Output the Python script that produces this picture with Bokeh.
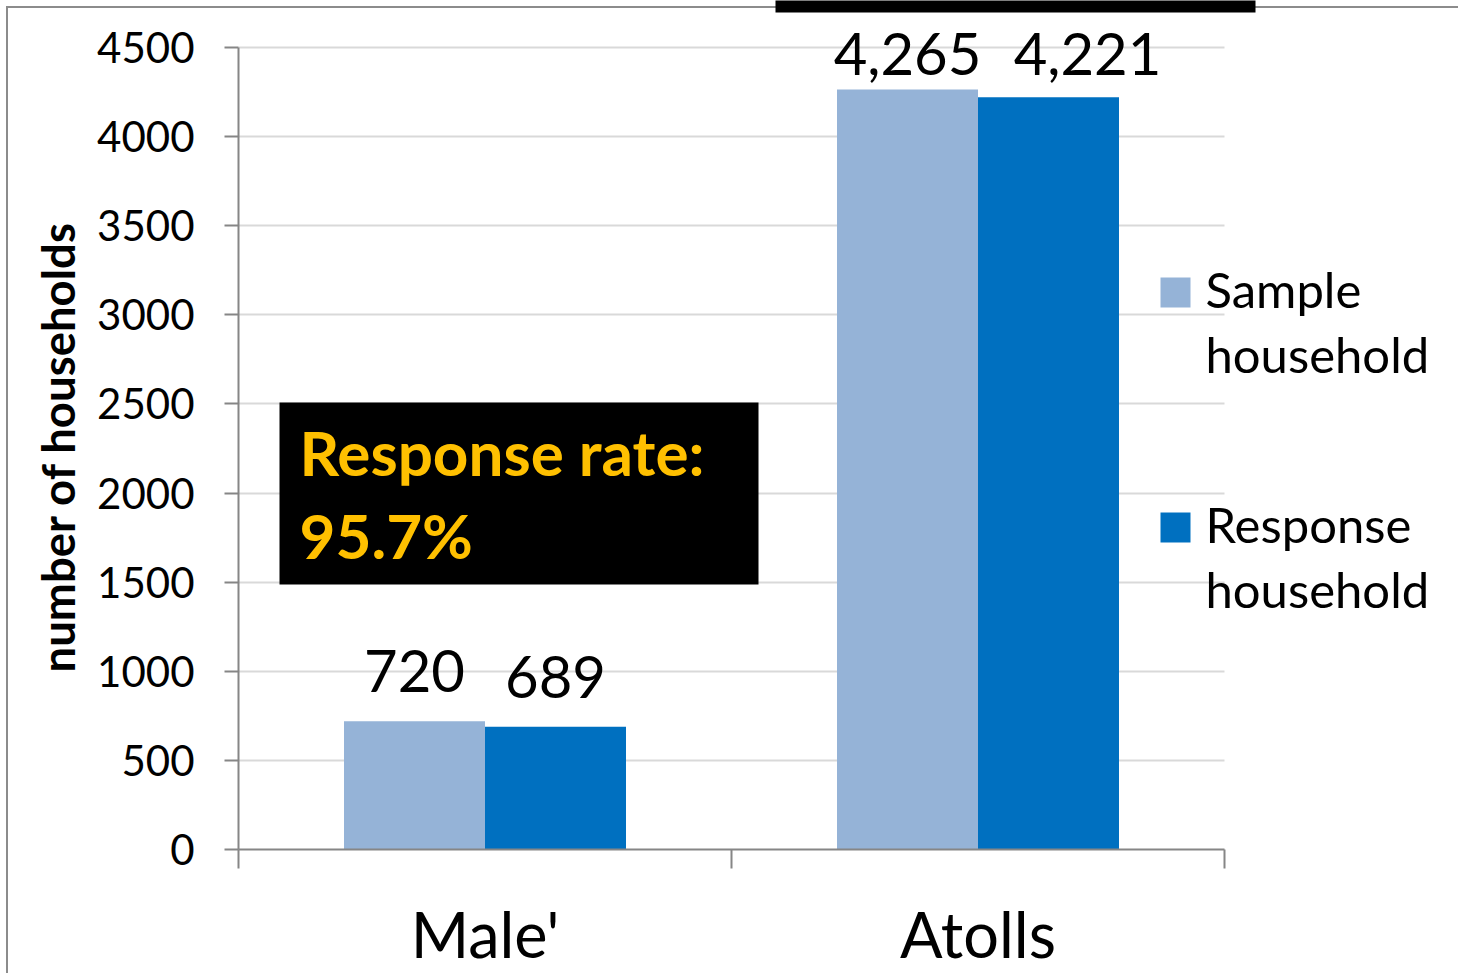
from bokeh.plotting import figure
from bokeh.models import (ColumnDataSource, Range1d, FixedTicker, LabelSet, Label, BoxAnnotation, Title)
from bokeh.transform import dodge
from bokeh.core.properties import value
from bokeh.embed import file_html
from bokeh.resources import INLINE

# ---- data ----
categories = ["Male'", "Atolls"]
sample_households = [720, 4265]
response_households = [689, 4221]
series_names = [("Sample", "household"), ("Response", "household")]
y_ticks = [0, 500, 1000, 1500, 2000, 2500, 3000, 3500, 4000, 4500]
y_label = "number of households"
note_lines = ["Response rate:", "95.7%"]

# ---- style ----
C_SAMPLE = "#95B3D7"
C_RESP = "#0070C0"
AXIS_C = "#868686"
GRID_C = "#D9D9D9"
FONT = "Lato"
BAR_W = 0.286
LABEL_GAP = 163       # data units above bar top
LABEL_CAP = 4343      # labels never above this
RESP_SHIFT = [0, 39]  # px shift of response labels

W, H = 1458, 973
FL, FB, FT_Y, FR_X = 238, 849, 47, 1224   # frame left, y of 0, y of 4500, x of right end
Y_MAX = y_ticks[-1]
n = len(categories)
x_end = n * (W - FL) / (FR_X - FL)
y_end = Y_MAX * FB / (FB - FT_Y)

cat_pos = [i + 0.5 for i in range(n)]
src = ColumnDataSource(dict(
    pos=cat_pos,
    sample=sample_households,
    response=response_households,
    s_txt=[f"{v:,}" for v in sample_households],
    r_txt=[f"{v:,}" for v in response_households],
    s_y=[min(v + LABEL_GAP, LABEL_CAP) for v in sample_households],
    r_y=[min(v + LABEL_GAP, LABEL_CAP) for v in response_households],
    r_dx=RESP_SHIFT,
))

p = figure(width=W, height=H,
           x_range=Range1d(0, x_end), y_range=Range1d(0, y_end),
           output_backend="svg", toolbar_location=None,
           min_border_left=FL, min_border_right=0,
           min_border_top=0, min_border_bottom=H - FB)
p.outline_line_color = None
p.background_fill_color = None
p.border_fill_color = None
p.styles = {
    "background-color": "white",
    "background-image": "linear-gradient(#8c8c8c, #8c8c8c), linear-gradient(#8c8c8c, #8c8c8c)",
    "background-size": "2px 100%, 100% 2px",
    "background-position": "6px 6px, 6px 6px",
    "background-repeat": "no-repeat",
}

p.vbar(x=dodge("pos", -BAR_W / 2), top="sample", width=BAR_W,
       source=src, fill_color=C_SAMPLE, line_color=None)
p.vbar(x=dodge("pos", BAR_W / 2), top="response", width=BAR_W,
       source=src, fill_color=C_RESP, line_color=None)

# y axis
yax = p.yaxis[0]
yax.ticker = FixedTicker(ticks=y_ticks)
yax.bounds = (0, Y_MAX)
yax.axis_line_color = AXIS_C
yax.axis_line_width = 2
yax.major_tick_line_color = AXIS_C
yax.major_tick_line_width = 2
yax.major_tick_out = 14
yax.major_tick_in = 0
yax.minor_tick_line_color = None
yax.major_label_text_font = FONT
yax.major_label_text_font_size = "42px"
yax.major_label_text_color = "black"
yax.major_label_standoff = 30

# y-axis title, placed along the 0..4500 span
p.add_layout(Title(text=y_label, text_font=FONT, text_font_style="bold",
                   text_font_size="45.5px", text_color="black",
                   align="left", offset=177, standoff=20), "left")

p.ygrid.ticker = FixedTicker(ticks=y_ticks)
p.ygrid.bounds = (0, Y_MAX)
p.ygrid.cross_bounds = (0, n)
p.ygrid.grid_line_color = GRID_C
p.ygrid.grid_line_width = 2
p.xgrid.grid_line_color = None

# x axis: boundary ticks as minor ticks, category names as major labels
xax = p.xaxis[0]
xax.ticker = FixedTicker(ticks=cat_pos, minor_ticks=[float(i) for i in range(n + 1)])
xax.bounds = (0, n)
xax.major_label_overrides = {c: name for c, name in zip(cat_pos, categories)}
xax.axis_line_color = AXIS_C
xax.axis_line_width = 2
xax.major_tick_line_color = None
xax.major_tick_out = 19
xax.major_tick_in = 0
xax.minor_tick_line_color = AXIS_C
xax.minor_tick_line_width = 2
xax.minor_tick_out = 19
xax.minor_tick_in = 0
xax.major_label_text_font = FONT
xax.major_label_text_font_size = "63px"
xax.major_label_text_color = "black"
xax.major_label_standoff = 27

# data labels
p.add_layout(LabelSet(x=dodge("pos", -BAR_W / 2), y="s_y", text="s_txt",
                      source=src, text_align="center", text_baseline="alphabetic",
                      text_font=value(FONT), text_font_size=value("58px"), text_color="black"))
p.add_layout(LabelSet(x=dodge("pos", BAR_W / 2), y="r_y", text="r_txt", x_offset="r_dx",
                      source=src, text_align="center", text_baseline="alphabetic",
                      text_font=value(FONT), text_font_size=value("58px"), text_color="black"))

def sx(x):  # reference pixel x -> frame screen x
    return x - FL

def sy(y):  # reference pixel y -> frame screen y (upwards)
    return FB - y

def box(l, r, t, b, color):
    p.add_layout(BoxAnnotation(left=sx(l), right=sx(r), top=sy(t), bottom=sy(b),
                               left_units="screen", right_units="screen",
                               bottom_units="screen", top_units="screen",
                               fill_color=color, fill_alpha=1, line_color=None))

def text(x, y, t, size, color="black", style="normal", lift=0):
    p.add_layout(Label(x=sx(x), y=sy(y) + lift, x_units="screen", y_units="screen", text=t,
                       text_font=FONT, text_font_style=style, text_font_size=size,
                       text_color=color, text_baseline="alphabetic", text_align="left"))

# legend (hand-built, overlapping plot area like the original)
legend_rows = [(C_SAMPLE, 277, 308, 373), (C_RESP, 512, 543, 608)]
for (col, sq_top, b1, b2), (l1, l2) in zip(legend_rows, series_names):
    box(1160, 1190, sq_top, sq_top + 30, col)
    text(1205, b1, l1, "49px", lift=20)
    text(1205, b2, l2, "49px", lift=20)

# response-rate note
box(279, 758, 402, 584, "black")
for t, b in zip(note_lines, (474, 557)):
    text(299, b, t, "62px", color="#FFC000", style="bold", lift=23)

# black bar at top edge of the slide
box(775, 1255, -5, 12, "black")

open("out.html", "w").write(file_html(p, INLINE))
